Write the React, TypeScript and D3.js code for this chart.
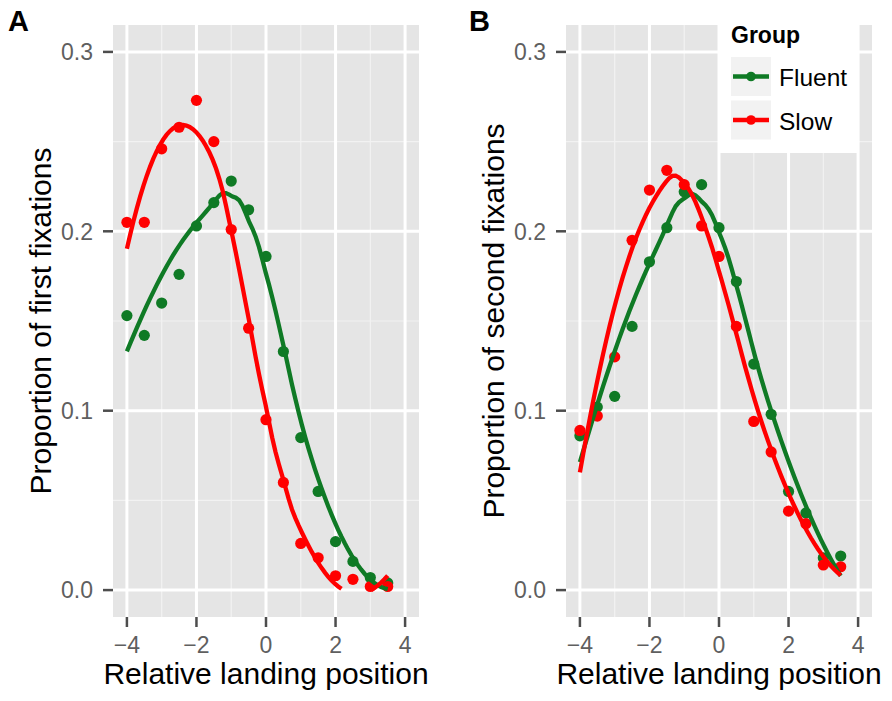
import React, { useEffect, useRef } from 'react';
import * as d3 from 'd3';

// relative landing positions (letters)
const positions = [-4, -3.5, -3, -2.5, -2, -1.5, -1, -0.5, 0, 0.5, 1, 1.5, 2, 2.5, 3, 3.5];

// panel A: proportion of first fixations
const firstFluent = [0.153, 0.142, 0.160, 0.176, 0.203, 0.216, 0.228, 0.212, 0.186, 0.133, 0.085, 0.055, 0.027, 0.016, 0.007, 0.004];
const firstSlow = [0.205, 0.205, 0.246, 0.258, 0.273, 0.250, 0.201, 0.146, 0.095, 0.060, 0.026, 0.018, 0.008, 0.006, 0.002, 0.002];

// panel B: proportion of second fixations
const secondFluent = [0.086, 0.102, 0.108, 0.147, 0.183, 0.202, 0.222, 0.226, 0.202, 0.172, 0.126, 0.098, 0.055, 0.043, 0.018, 0.019];
const secondSlow = [0.089, 0.097, 0.130, 0.195, 0.223, 0.234, 0.226, 0.203, 0.186, 0.147, 0.094, 0.077, 0.044, 0.037, 0.014, 0.013];

const groups = ['Fluent', 'Slow'];
const groupColors = ['#0f7a25', '#ff0000'];
const xTicks = [-4, -2, 0, 2, 4];
const xMinor = [-3, -1, 1, 3];
const yTicks = [0, 0.1, 0.2, 0.3];
const yMinor = [0.05, 0.15, 0.25];

const FONT = "'Liberation Sans', Arial, sans-serif";

// local quadratic regression with tricube weights (like R's loess, span 0.75)
function loess(xs: number[], ys: number[], xout: number[], span = 0.75) {
  const q = Math.floor(xs.length * span);
  return xout.map(x0 => {
    const d = xs.map(x => Math.abs(x - x0));
    const h = [...d].sort((a, b) => a - b)[q - 1] * 1.0001;
    const S = [[0, 0, 0], [0, 0, 0], [0, 0, 0]];
    const T = [0, 0, 0];
    xs.forEach((x, i) => {
      const u = d[i] / h;
      const w = u < 1 ? Math.pow(1 - u * u * u, 3) : 0;
      const t = x - x0;
      const b = [1, t, t * t];
      for (let j = 0; j < 3; j++) {
        T[j] += w * b[j] * ys[i];
        for (let k = 0; k < 3; k++) S[j][k] += w * b[j] * b[k];
      }
    });
    // gaussian elimination
    const M = S.map((r, i) => [...r, T[i]]);
    for (let c = 0; c < 3; c++) {
      let p = c;
      for (let r = c + 1; r < 3; r++) if (Math.abs(M[r][c]) > Math.abs(M[p][c])) p = r;
      [M[c], M[p]] = [M[p], M[c]];
      for (let r = c + 1; r < 3; r++) {
        const f = M[r][c] / M[c][c];
        for (let k = c; k < 4; k++) M[r][k] -= f * M[c][k];
      }
    }
    const sol = [0, 0, 0];
    for (let r = 2; r >= 0; r--) {
      let s = M[r][3];
      for (let k = r + 1; k < 3; k++) s -= M[r][k] * sol[k];
      sol[r] = s / M[r][r];
    }
    return sol[0];
  });
}

interface PanelSpec {
  tag: string;
  tagX: number;
  left: number;
  right: number;
  ylab: string;
  series: number[][];
  legend: boolean;
}

const panels: PanelSpec[] = [
  { tag: 'A', tagX: 8, left: 113, right: 419, ylab: 'Proportion of first fixations', series: [firstFluent, firstSlow], legend: false },
  { tag: 'B', tagX: 469, left: 566, right: 872, ylab: 'Proportion of second fixations', series: [secondFluent, secondSlow], legend: true },
];

const top = 25;
const bottom = 617;

const Chart: React.FC = () => {
  const svgRef = useRef<SVGSVGElement>(null);

  useEffect(() => {
    if (!svgRef.current) return;
    const svg = d3.select(svgRef.current);
    svg.selectAll('*').remove();

    const grid = d3.range(80).map(i => -4 + (7.5 * i) / 79);

    panels.forEach(p => {
      const x = d3.scaleLinear().domain([-4.4, 4.4]).range([p.left, p.right]);
      const y = d3.scaleLinear().domain([-0.015, 0.315]).range([bottom, top]);
      const g = svg.append('g');

      g.append('rect')
        .attr('x', p.left).attr('y', top)
        .attr('width', p.right - p.left).attr('height', bottom - top)
        .attr('fill', '#e5e5e5');

      g.selectAll('.vminor').data(xMinor).join('line')
        .attr('x1', d => x(d)).attr('x2', d => x(d))
        .attr('y1', top).attr('y2', bottom)
        .attr('stroke', '#f2f2f2').attr('stroke-width', 1.2);
      g.selectAll('.hminor').data(yMinor).join('line')
        .attr('x1', p.left).attr('x2', p.right)
        .attr('y1', d => y(d)).attr('y2', d => y(d))
        .attr('stroke', '#f2f2f2').attr('stroke-width', 1.2);
      g.selectAll('.vmajor').data(xTicks).join('line')
        .attr('x1', d => x(d)).attr('x2', d => x(d))
        .attr('y1', top).attr('y2', bottom)
        .attr('stroke', '#fff').attr('stroke-width', 3);
      g.selectAll('.hmajor').data(yTicks).join('line')
        .attr('x1', p.left).attr('x2', p.right)
        .attr('y1', d => y(d)).attr('y2', d => y(d))
        .attr('stroke', '#fff').attr('stroke-width', 3);

      // axes
      g.selectAll('.ytick').data(yTicks).join('line')
        .attr('x1', p.left - 10).attr('x2', p.left)
        .attr('y1', d => y(d)).attr('y2', d => y(d))
        .attr('stroke', '#4d4d4d').attr('stroke-width', 2.5);
      g.selectAll('.ylabel').data(yTicks).join('text')
        .attr('x', p.left - 20).attr('y', d => y(d))
        .attr('dy', '0.36em')
        .attr('text-anchor', 'end')
        .attr('font-size', 23).attr('fill', '#5f5f5f')
        .attr('font-family', FONT)
        .text(d => d3.format('.1f')(d));
      g.selectAll('.xtick').data(xTicks).join('line')
        .attr('x1', d => x(d)).attr('x2', d => x(d))
        .attr('y1', bottom).attr('y2', bottom + 10)
        .attr('stroke', '#4d4d4d').attr('stroke-width', 2.5);
      g.selectAll('.xlabel').data(xTicks).join('text')
        .attr('x', d => x(d)).attr('y', 653)
        .attr('text-anchor', 'middle')
        .attr('font-size', 23).attr('fill', '#5f5f5f')
        .attr('font-family', FONT)
        .text(d => d3.format('d')(d));

      g.append('text')
        .attr('x', (p.left + p.right) / 2).attr('y', 684)
        .attr('text-anchor', 'middle')
        .attr('font-size', 30).attr('font-family', FONT)
        .text('Relative landing position');
      g.append('text')
        .attr('transform', `translate(${p.left - 62},${(top + bottom) / 2}) rotate(-90)`)
        .attr('text-anchor', 'middle')
        .attr('font-size', 30).attr('font-family', FONT)
        .text(p.ylab);
      g.append('text')
        .attr('x', p.tagX).attr('y', 31)
        .attr('font-size', 29).attr('font-weight', 'bold').attr('font-family', FONT)
        .text(p.tag);

      // points
      p.series.forEach((vals, si) => {
        g.append('g').selectAll('circle').data(vals).join('circle')
          .attr('cx', (_, i) => x(positions[i]))
          .attr('cy', d => y(d))
          .attr('r', 5.6)
          .attr('fill', groupColors[si]);
      });

      // loess smooths, dropped outside 0..0.3
      p.series.forEach((vals, si) => {
        const fit = loess(positions, vals, grid);
        const line = d3.line<number>()
          .defined(d => d >= 0 && d <= 0.3)
          .x((_, i) => x(grid[i]))
          .y(d => y(d))
          .curve(d3.curveLinear);
        g.append('path')
          .attr('d', line(fit))
          .attr('fill', 'none')
          .attr('stroke', groupColors[si])
          .attr('stroke-width', 4.3);
      });

      if (p.legend) {
        const lg = g.append('g');
        lg.append('rect')
          .attr('x', 718).attr('y', top).attr('width', 139).attr('height', 128)
          .attr('fill', '#fff');
        lg.append('text')
          .attr('x', 731).attr('y', 43)
          .attr('font-size', 23).attr('font-weight', 'bold').attr('font-family', FONT)
          .text('Group');
        groups.forEach((name, i) => {
          const ky = 57 + i * 43.5;
          lg.append('rect')
            .attr('x', 731).attr('y', ky).attr('width', 40).attr('height', 39)
            .attr('fill', '#f2f2f2');
          lg.append('line')
            .attr('x1', 733).attr('x2', 769)
            .attr('y1', ky + 19.5).attr('y2', ky + 19.5)
            .attr('stroke', groupColors[i]).attr('stroke-width', 4.5);
          lg.append('circle')
            .attr('cx', 751).attr('cy', ky + 19.5).attr('r', 4.8)
            .attr('fill', groupColors[i]);
          lg.append('text')
            .attr('x', 779).attr('y', ky + 29)
            .attr('font-size', 24.5).attr('font-family', FONT)
            .text(name);
        });
      }
    });
  }, []);

  return <svg ref={svgRef} width={892} height={701} style={{ display: 'block', background: '#fff' }} />;
};

export default function App() {
  return (
    <div style={{ position: 'absolute', left: 0, top: 0 }}>
      <Chart />
    </div>
  );
}
